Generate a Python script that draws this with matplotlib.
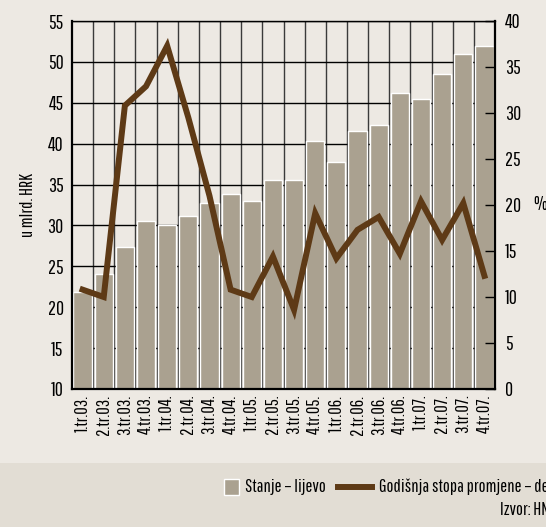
import matplotlib as mpl
mpl.use('Agg')
import matplotlib.pyplot as plt
import matplotlib.patches as mpatches
import matplotlib.lines as mlines
import numpy as np

plt.rcParams['font.family'] = ['Pathway Gothic One', 'Roboto Condensed', 'DejaVu Sans']

# data
kvartali = ['1.tr.03.', '2.tr.03.', '3.tr.03.', '4.tr.03.',
            '1.tr.04.', '2.tr.04.', '3.tr.04.', '4.tr.04.',
            '1.tr.05.', '2.tr.05.', '3.tr.05.', '4.tr.05.',
            '1.tr.06.', '2.tr.06.', '3.tr.06.', '4.tr.06.',
            '1.tr.07.', '2.tr.07.', '3.tr.07.', '4.tr.07.']
stanje = [21.9, 24.1, 27.4, 30.6, 30.1, 31.1, 32.8, 33.9, 33.0, 35.5,
          35.5, 40.3, 37.8, 41.5, 42.3, 46.2, 45.5, 48.5, 51.0, 52.0]
stopa = [10.8, 10.0, 30.8, 32.9, 37.3, 29.5, 21.0, 10.8, 10.0, 14.4,
         8.6, 19.1, 14.2, 17.3, 18.7, 14.7, 20.4, 16.2, 20.2, 12.3]
left_ticks = [10, 15, 20, 25, 30, 35, 40, 45, 50, 55]
right_ticks = [0, 5, 10, 15, 20, 25, 30, 35, 40]

bg = '#ede9e3'
bar_c = '#aaa190'
line_c = '#5e3a16'
fs = 13.3

fig = plt.figure(figsize=(5.46, 5.27), dpi=100)
fig.patch.set_facecolor(bg)
# donja traka s legendom
fig.patches.append(mpatches.Rectangle((0, 0), 1, 64/527, transform=fig.transFigure,
                                      facecolor='#e2ddd4', edgecolor='none', zorder=0))

ax1 = fig.add_axes([72/546, 1-389/527, 423/546, 368/527])
ax1.set_facecolor(bg)
x = np.arange(len(kvartali))

ax1.set_axisbelow(True)
ax1.yaxis.grid(True, color='black', linewidth=1)
for k in range(len(kvartali)-1):
    ax1.axvline(k+0.5, color='#3a3a3a', linewidth=1, zorder=0.5)
ax1.bar(x, stanje, width=0.86, bottom=0, color=bar_c, edgecolor='white', linewidth=1, zorder=2)

ax1.set_xlim(-0.5, len(kvartali)-0.5)
ax1.set_ylim(10, 55)
ax1.set_yticks(left_ticks)
ax1.set_xticks(x)
ax1.set_xticklabels(kvartali, rotation=90, fontsize=fs)
ax1.tick_params(axis='y', length=0, pad=6, labelsize=fs+1)
ax1.tick_params(axis='x', length=0, pad=4)
ax1.set_ylabel('u mlrd. HRK', fontsize=fs, labelpad=8)
for s in ['left', 'bottom', 'right']:
    ax1.spines[s].set_linewidth(1.6)
ax1.spines['top'].set_linewidth(1)

ax2 = ax1.twinx()
ax2.plot(x, stopa, color=line_c, linewidth=4.3, solid_joinstyle='miter', zorder=3)
ax2.set_ylim(0, 40)
ax2.set_yticks(right_ticks)
ax2.tick_params(axis='y', direction='in', length=7, width=1, pad=7, labelsize=fs+1)
for s in ax2.spines.values():
    s.set_visible(False)
fig.text(533/546, 1-205/527, '%', fontsize=fs+1, va='center', ha='left')

# legenda (rucno)
ly = 1 - 487/527
fig.patches.append(mpatches.Rectangle((224/546, 1-495/527), 15/546, 16/527, transform=fig.transFigure,
                                      facecolor=bar_c, edgecolor='white', linewidth=1))
fig.text(245/546, ly, 'Stanje – lijevo', fontsize=fs, va='center', ha='left')
fig.lines.append(mlines.Line2D([338/546, 372/546], [ly, ly], transform=fig.transFigure,
                               color=line_c, linewidth=4.3))
fig.text(379/546, ly, 'Godišnja stopa promjene – desno', fontsize=fs, va='center', ha='left')
fig.text(500/546, 1-510/527, 'Izvor: HNB', fontsize=fs, va='center', ha='left')

plt.savefig('out.png', dpi=100, facecolor=bg)
